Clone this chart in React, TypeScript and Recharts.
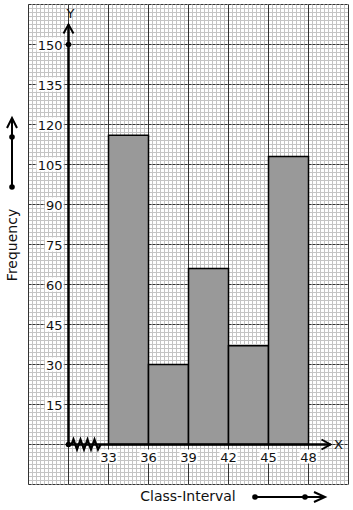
import React from "react";
import {
  ComposedChart,
  XAxis,
  YAxis,
  CartesianGrid,
  ReferenceArea,
  ReferenceLine,
  ReferenceDot,
} from "recharts";

// class intervals and their frequencies
const classStarts = [33, 36, 39, 42, 45];
const classEnds = [36, 39, 42, 45, 48];
const frequencies = [116, 30, 66, 37, 108];

const xTicks = [33, 36, 39, 42, 45, 48];
const yTicks = [15, 30, 45, 60, 75, 90, 105, 120, 135, 150];

// graph paper window (value space)
const X_MIN = 27;
const X_MAX = 51;
const Y_MIN = -15;
const Y_MAX = 165;
const X_ORIGIN = 30; // where the y axis sits (axis break)
const Y_ARROW = 157.5;
const X_ARROW = 49.65;

const steps = (from: number, to: number, step: number) => {
  const out: number[] = [];
  const n = Math.round((to - from) / step);
  for (let i = 0; i <= n; i++) out.push(+(from + i * step).toFixed(4));
  return out;
};

const minorX = steps(X_MIN, X_MAX, 0.3);
const minorY = steps(Y_MIN, Y_MAX, 1.5);
const majorX = steps(X_MIN, X_MAX, 1.5);
const majorY = steps(Y_MIN, Y_MAX, 7.5);

const FONT = "'DejaVu Sans', sans-serif";

const XTickLabel = (label: string) => (props: any) => {
  const { cx, cy } = props;
  return (
    <g>
      <rect x={cx - 9} y={cy + 5} width={18} height={14} fill="#fff" />
      <text x={cx} y={cy + 17} textAnchor="middle" fontSize={13} fontFamily={FONT} fill="#111">
        {label}
      </text>
    </g>
  );
};

const YTickLabel = (label: string) => (props: any) => {
  const { cx, cy } = props;
  const w = label.length * 8.3 + 2;
  return (
    <g>
      <rect x={cx - 5 - w} y={cy - 7} width={w} height={14} fill="#fff" />
      <text x={cx - 6} y={cy + 5} textAnchor="end" fontSize={13} fontFamily={FONT} fill="#111">
        {label}
      </text>
    </g>
  );
};

const UpArrowHead = (props: any) => {
  const { cx, cy } = props;
  return (
    <g>
      <path d={`M${cx - 5},${cy + 9} L${cx},${cy} L${cx + 5},${cy + 9}`} fill="none" stroke="#000" strokeWidth={2} />
      <text x={cx + 2} y={cy - 7} textAnchor="middle" fontSize={13} fontFamily={FONT} fill="#111">
        Y
      </text>
    </g>
  );
};

const RightArrowHead = (props: any) => {
  const { cx, cy } = props;
  return (
    <g>
      <path d={`M${cx - 9},${cy - 5} L${cx},${cy} L${cx - 9},${cy + 5}`} fill="none" stroke="#000" strokeWidth={2} />
      <text x={cx + 8} y={cy + 4} textAnchor="middle" fontSize={13} fontFamily={FONT} fill="#111">
        X
      </text>
    </g>
  );
};

const Zigzag = (props: any) => {
  const { cx, cy } = props;
  let d = `M${cx + 3},${cy}`;
  for (let i = 0; i < 8; i++) {
    d += ` L${cx + 5 + i * 3.5},${cy + (i % 2 === 0 ? -5 : 5)}`;
  }
  d += ` L${cx + 32},${cy}`;
  return <path d={d} fill="none" stroke="#000" strokeWidth={2.2} />;
};

const Dot = (props: any) => <circle cx={props.cx} cy={props.cy} r={2.8} fill="#000" />;

// plot area offsets -> pixel positions of the fine grid
const minorVertical = ({ offset }: any) =>
  minorX.map((v) => offset.left + ((v - X_MIN) / (X_MAX - X_MIN)) * offset.width);
const minorHorizontal = ({ offset }: any) =>
  minorY.map((v) => offset.top + ((Y_MAX - v) / (Y_MAX - Y_MIN)) * offset.height);

export default function App() {
  return (
    <div style={{ position: "absolute", left: 0, top: 0, width: 353, height: 510, background: "#fff" }}>
      <ComposedChart
        width={353}
        height={510}
        data={[]}
        margin={{ top: 4.5, right: 4.5, bottom: 25.5, left: 28.5 }}
      >
        <XAxis type="number" dataKey="x" domain={[X_MIN, X_MAX]} allowDataOverflow hide />
        <YAxis type="number" domain={[Y_MIN, Y_MAX]} allowDataOverflow hide />
        <CartesianGrid
          verticalCoordinatesGenerator={minorVertical}
          horizontalCoordinatesGenerator={minorHorizontal}
          stroke="#c4c4c4"
          strokeWidth={1}
        />
        <CartesianGrid horizontal={false} verticalValues={majorX} stroke="#333" strokeWidth={1} />
        <CartesianGrid
          vertical={false}
          horizontalValues={majorY}
          stroke="#333"
          strokeWidth={1}
          strokeDasharray="3 1"
        />
        {classStarts.map((s, i) => (
          <ReferenceArea
            key={s}
            x1={s}
            x2={classEnds[i]}
            y1={0}
            y2={frequencies[i]}
            fill="#999999"
            fillOpacity={1}
            stroke="#000"
            strokeWidth={1.5}
          />
        ))}
        <ReferenceLine
          segment={[{ x: X_ORIGIN, y: 0 }, { x: X_ARROW, y: 0 }]}
          stroke="#000"
          strokeWidth={2.5}
        />
        <ReferenceLine
          segment={[{ x: X_ORIGIN, y: 0 }, { x: X_ORIGIN, y: Y_ARROW }]}
          stroke="#000"
          strokeWidth={2.5}
        />
        <ReferenceDot x={X_ORIGIN} y={Y_ARROW} shape={UpArrowHead} />
        <ReferenceDot x={X_ARROW} y={0} shape={RightArrowHead} />
        <ReferenceDot x={X_ORIGIN} y={0} shape={Zigzag} />
        <ReferenceDot x={X_ORIGIN} y={0} shape={Dot} />
        <ReferenceDot x={X_ORIGIN} y={150} shape={Dot} />
        {xTicks.map((t) => (
          <ReferenceDot key={`x${t}`} x={t} y={0} shape={XTickLabel(String(t))} />
        ))}
        {yTicks.map((t) => (
          <ReferenceDot key={`y${t}`} x={X_ORIGIN} y={t} shape={YTickLabel(String(t))} />
        ))}
      </ComposedChart>
      <svg
        width={353}
        height={510}
        style={{ position: "absolute", left: 0, top: 0, pointerEvents: "none" }}
      >
        <text
          x={17}
          y={245}
          transform="rotate(-90 17 245)"
          textAnchor="middle"
          fontSize={14}
          fontFamily={FONT}
          fill="#111"
        >
          Frequency
        </text>
        <line x1={12} y1={187} x2={12} y2={119} stroke="#000" strokeWidth={2} />
        <path d="M7,128 L12,118 L17,128" fill="none" stroke="#000" strokeWidth={2} />
        <circle cx={12} cy={187} r={2.8} fill="#000" />
        <circle cx={12} cy={137} r={2.8} fill="#000" />
        <text x={188} y={501} textAnchor="middle" fontSize={14} fontFamily={FONT} fill="#111">
          Class-Interval
        </text>
        <line x1={255} y1={497} x2={324} y2={497} stroke="#000" strokeWidth={2} />
        <path d="M314,492 L325,497 L314,502" fill="none" stroke="#000" strokeWidth={2} />
        <circle cx={255} cy={497} r={2.8} fill="#000" />
        <circle cx={305} cy={497} r={2.8} fill="#000" />
      </svg>
    </div>
  );
}
